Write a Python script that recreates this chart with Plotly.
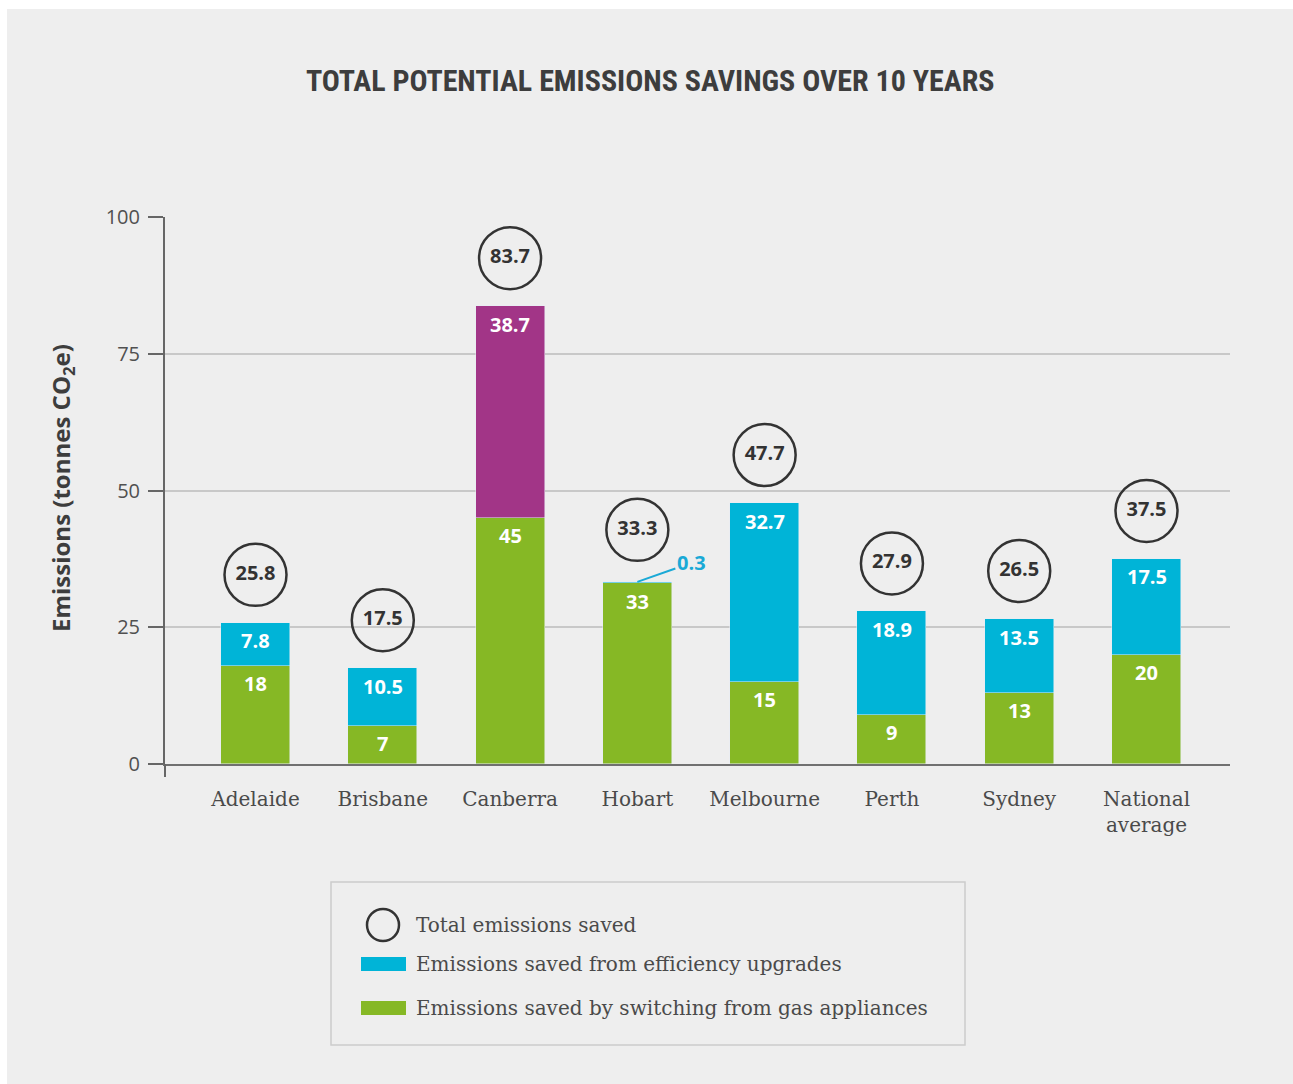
import plotly.graph_objects as go

# ---------------- data ----------------
categories = ["Adelaide", "Brisbane", "Canberra", "Hobart", "Melbourne", "Perth", "Sydney", "National<br>average"]
gas_switching = [18, 7, 45, 33, 15, 9, 13, 20]
efficiency = [7.8, 10.5, None, 0.3, 32.7, 18.9, 13.5, 17.5]
canberra_other = [None, None, 38.7, None, None, None, None, None]
totals = [25.8, 17.5, 83.7, 33.3, 47.7, 27.9, 26.5, 37.5]
y_ticks = [0, 25, 50, 75, 100]

# ---------------- layout geometry (pixels) ----------------
W, H = 1293, 1084
PL, PR, PT, PB = 165, 1230, 217, 764          # plot area in pixels
Y_MAX = 100
PX_PER_UNIT = (PB - PT) / Y_MAX


def X(px):
    return (px - PL) / (PR - PL)


def Y(py):
    return (PB - py) / (PB - PT)


GREEN = "#86b825"
BLUE = "#00b4d7"
PURPLE = "#a23587"
DARK = "#333333"
BG = "#eeeeee"

xs = list(range(len(categories)))
bar_w = 0.542

fig = go.Figure()
fig.add_trace(go.Bar(x=xs, y=gas_switching, marker_color=GREEN, width=bar_w,
                     name="Emissions saved by switching from gas appliances", showlegend=False))
fig.add_trace(go.Bar(x=xs, y=efficiency, marker_color=BLUE, width=bar_w,
                     name="Emissions saved from efficiency upgrades", showlegend=False))
fig.add_trace(go.Bar(x=xs, y=canberra_other, marker_color=PURPLE, width=bar_w,
                     name="Other", showlegend=False))

# circles with totals
circle_gap_px = 48
circle_y = []
for i, t in enumerate(totals):
    extra = 4 if (efficiency[i] is not None and efficiency[i] < 1) else 0
    circle_y.append(t + (circle_gap_px + extra) / PX_PER_UNIT)
fig.add_trace(go.Scatter(
    x=xs, y=circle_y, mode="markers+text",
    text=[f"{t:g}" for t in totals], textposition="middle center",
    textfont=dict(family="Open Sans", size=20, color=DARK, weight="bold"),
    marker=dict(symbol="circle", size=62, color="rgba(0,0,0,0)",
                line=dict(color=DARK, width=2.5)),
    showlegend=False, hoverinfo="skip", cliponaxis=False))

annotations = []
# segment labels
for i in xs:
    base = 0
    for series in (gas_switching, efficiency, canberra_other):
        v = series[i]
        if v is None:
            continue
        top = base + v
        if v >= 1:
            annotations.append(dict(x=i, y=top, xref="x", yref="y", text=f"{v:g}",
                                    showarrow=False, yanchor="middle", yshift=-18,
                                    font=dict(family="Open Sans", size=20, color="white", weight="bold")))
        else:
            annotations.append(dict(x=i, y=top, xref="x", yref="y", text=f"{v:g}",
                                    showarrow=True, arrowhead=0, arrowwidth=2, arrowcolor="#1aa9d6",
                                    ax=54, ay=-19, standoff=0,
                                    font=dict(family="Open Sans", size=20, color="#1aa9d6", weight="bold")))
        base = top

# title
annotations.append(dict(x=X(650), y=Y(80), xref="paper", yref="paper", showarrow=False,
                        text="TOTAL POTENTIAL EMISSIONS SAVINGS OVER 10 YEARS",
                        xanchor="center", yanchor="middle",
                        font=dict(family="Liberation Sans Narrow, Roboto Condensed, Roboto", size=30,
                                  color="#3d3d3d", weight="bold")))
# y-axis title
annotations.append(dict(x=X(62), y=Y(488), xref="paper", yref="paper", showarrow=False,
                        text="Emissions (tonnes CO<sub>2</sub>e)", textangle=-90,
                        xanchor="center", yanchor="middle",
                        font=dict(family="Open Sans", size=24, color="#3d3d3d", weight="bold")))

# legend (manual)
legend_font = dict(family="DejaVu Serif", size=20, color="#4a4a4a")
legend_rows = [("Total emissions saved", 925), ("Emissions saved from efficiency upgrades", 964),
               ("Emissions saved by switching from gas appliances", 1008)]
for txt, py in legend_rows:
    annotations.append(dict(x=X(414), y=Y(py), xref="paper", yref="paper", showarrow=False,
                            text=txt, xanchor="left", yanchor="middle", font=legend_font))

shapes = [
    # white margins of the page
    dict(type="rect", xref="paper", yref="paper", x0=X(0), x1=X(W), y0=Y(0), y1=Y(9),
         fillcolor="white", line=dict(width=0), layer="below"),
    dict(type="rect", xref="paper", yref="paper", x0=X(0), x1=X(7), y0=Y(0), y1=Y(H),
         fillcolor="white", line=dict(width=0), layer="below"),
    # y axis extension below zero
    dict(type="line", xref="paper", yref="paper", x0=0, x1=0, y0=0, y1=Y(777),
         line=dict(color="#666666", width=2)),
    # legend box and keys
    dict(type="rect", xref="paper", yref="paper", x0=X(331), x1=X(965), y0=Y(882), y1=Y(1045),
         line=dict(color="#cccccc", width=1.5)),
    dict(type="circle", xref="paper", yref="paper", x0=X(367), x1=X(399), y0=Y(909), y1=Y(941),
         line=dict(color=DARK, width=2.5)),
    dict(type="rect", xref="paper", yref="paper", x0=X(361), x1=X(406), y0=Y(957), y1=Y(971),
         fillcolor=BLUE, line=dict(width=0)),
    dict(type="rect", xref="paper", yref="paper", x0=X(361), x1=X(406), y0=Y(1001), y1=Y(1015),
         fillcolor=GREEN, line=dict(width=0)),
]

x_center0 = (221 + 290) / 2
x_step = ((1112 + 1181) / 2 - x_center0) / 7
x_range = [(PL - x_center0) / x_step, (PR - x_center0) / x_step]

fig.update_layout(
    width=W, height=H, autosize=False,
    margin=dict(l=PL, r=W - PR, t=PT, b=H - PB),
    paper_bgcolor=BG, plot_bgcolor=BG,
    barmode="stack", bargap=0,
    showlegend=False,
    annotations=annotations, shapes=shapes,
    xaxis=dict(range=x_range, tickvals=xs, ticktext=categories, showgrid=False, zeroline=False,
               showline=True, linecolor="#707070", linewidth=2, ticks="",
               ticklabelstandoff=16,
               tickfont=dict(family="DejaVu Serif", size=20, color="#4a4a4a"), fixedrange=True),
    yaxis=dict(range=[0, Y_MAX], tickvals=y_ticks, showgrid=True, gridcolor="#c8c8c8", gridwidth=1.5,
               zeroline=False, showline=True, linecolor="#666666", linewidth=2,
               ticks="outside", ticklen=15, tickwidth=2, tickcolor="#666666",
               ticklabelstandoff=4,
               tickfont=dict(family="Open Sans", size=20, color="#505050"), fixedrange=True),
)

fig.write_html("out.html")
